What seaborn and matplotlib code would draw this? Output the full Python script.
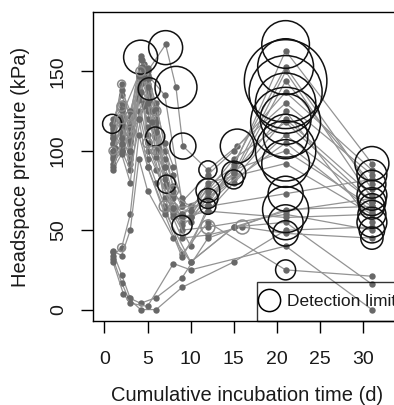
import matplotlib
matplotlib.use("Agg")
import matplotlib.pyplot as plt
from matplotlib.lines import Line2D
import numpy as np
import pandas as pd
import seaborn as sns

# headspace pressure of each bottle (days, kPa)
series_days = [
    [1.0, 2.0, 3.0, 4.2, 5.0, 6.0, 7.0, 9.0, 12.0, 15.0, 21.0, 31.0],
    [1.0, 2.0, 3.0, 4.2, 5.0, 6.0, 8.0, 10.0, 12.0, 15.0, 21.0, 31.0],
    [1.0, 2.0, 3.0, 4.0, 5.0, 7.1, 8.3, 9.1, 12.0, 15.4, 21.0, 31.0],
    [1.0, 2.0, 3.0, 4.6, 5.2, 6.0, 7.0, 9.0, 12.0, 15.0, 21.0, 31.0],
    [1.0, 2.0, 3.0, 4.0, 5.0, 6.0, 8.0, 9.0, 12.0, 15.0, 21.0, 31.0],
    [1.0, 2.0, 3.0, 4.0, 5.0, 5.9, 7.0, 9.0, 12.0, 15.0, 21.0, 31.0],
    [1.0, 2.0, 3.0, 4.6, 5.0, 7.2, 8.0, 10.0, 12.0, 15.0, 21.0, 31.0],
    [1.0, 2.0, 3.0, 4.0, 5.0, 6.0, 8.0, 10.0, 12.0, 21.0, 31.0],
    [0.9, 2.0, 3.0, 4.2, 5.0, 7.0, 9.0, 12.0, 15.0, 21.0, 31.0],
    [1.0, 2.0, 3.0, 4.2, 5.0, 6.0, 8.0, 9.0, 12.0, 15.0, 21.0, 31.0],
    [1.0, 2.0, 4.0, 5.0, 6.0, 7.0, 9.0, 12.0, 21.0, 31.0],
    [1.0, 2.0, 4.0, 5.0, 7.0, 9.0, 12.0, 16.0, 21.0, 31.0],
    [1.0, 2.0, 4.0, 5.0, 8.0, 10.0, 12.0, 21.0, 31.0],
    [1.0, 2.0, 4.6, 5.0, 6.0, 9.0, 12.0, 21.0, 31.0],
    [2.0, 4.0, 5.0, 7.0, 10.0, 15.0, 21.0, 31.0],
    [1.0, 2.0, 3.0, 4.2, 6.0, 9.0, 12.0, 21.0, 31.0],
    [1.0, 2.0, 2.8, 4.2, 6.0, 9.0, 15.0, 21.0, 31.0],
    [1.0, 2.2, 3.0, 5.0, 8.0, 10.0, 21.0, 31.0],
    [1.0, 2.0, 3.0, 4.0, 5.0, 7.0, 9.0, 12.0, 21.0, 31.0],
    [1.0, 2.0, 3.0, 4.0, 5.0, 8.0, 10.0, 15.0, 21.0, 31.0],
    [1.0, 2.0, 3.0, 4.4, 5.0, 6.0, 7.0, 8.0, 9.0],
    [1.0, 2.0, 3.0, 4.4, 5.2, 6.0, 7.0, 8.0],
    [1.0, 2.0, 3.0, 4.0, 5.0, 6.0, 7.0, 8.0, 10.0],
    [1.0, 2.0, 3.0, 4.4, 5.2, 6.0, 7.0, 8.0],
    [1.0, 2.0, 3.0, 4.0, 4.6, 5.0, 5.5, 6.0, 7.0],
    [1.2, 2.0, 3.0, 4.2, 4.6, 5.0, 5.5, 6.2],
    [9.0, 12.0, 15.0, 21.0, 31.0],
    [10.0, 12.0, 21.0, 31.0],
    [8.0, 12.0, 15.0, 21.0, 31.0],
]
series_kpa = [
    [117, 128, 112, 150, 142, 125, 85, 55, 72, 86, 150, 70],
    [112, 142, 118, 160, 138, 109, 62, 58, 78, 90, 163, 92],
    [108, 120, 104, 145, 150, 167, 140, 103, 88, 103, 130, 85],
    [104, 115, 98, 155, 139, 120, 78, 60, 70, 84, 144, 79],
    [100, 110, 95, 140, 125, 100, 70, 53, 66, 82, 120, 72],
    [96, 105, 92, 135, 120, 109, 65, 58, 62, 80, 110, 68],
    [92, 100, 88, 130, 110, 79, 58, 55, 74, 88, 100, 65],
    [88, 98, 80, 125, 100, 88, 64, 62, 80, 92, 60],
    [117, 135, 122, 158, 148, 135, 68, 85, 100, 137, 88],
    [114, 125, 108, 152, 145, 130, 75, 65, 70, 86, 125, 55],
    [110, 122, 148, 128, 112, 82, 50, 52, 60, 50],
    [105, 112, 138, 115, 70, 45, 47, 52, 48, 45],
    [100, 108, 132, 105, 60, 40, 65, 73, 82],
    [95, 102, 128, 95, 80, 35, 55, 25, 21],
    [100, 120, 90, 62, 30, 52, 55, 16],
    [36, 22, 7, 4, 7.5, 20, 45, 63, 65],
    [32, 17, 7, 0, 0, 14, 30, 50, 52],
    [30, 10, 4, 2, 29, 25, 40, 0],
    [34, 39, 60, 110, 90, 60, 33, 62, 58, 60],
    [37, 34, 50, 95, 75, 45, 30, 52, 62, 70],
    [120, 130, 115, 157, 152, 118, 100, 85, 70],
    [115, 138, 125, 153, 146, 127, 105, 90],
    [90, 104, 100, 120, 135, 96, 90, 72, 65],
    [98, 118, 110, 143, 132, 115, 95, 78],
    [108, 126, 106, 147, 151, 140, 125, 112, 90],
    [102, 116, 100, 137, 146, 130, 118, 102],
    [60, 75, 95, 118, 68],
    [58, 70, 105, 62],
    [64, 66, 92, 153, 76],
]

# detection limit circles: centre (day, kPa) and radius (kPa)
limit_day = [0.9, 4.2, 7.1, 8.3, 5.2, 5.9, 9.1, 7.2, 9.0,
             2.0, 2.0, 2.0, 1.0, 3.0, 6.0, 3.0, 4.2, 2.0, 5.0, 6.0, 8.0, 7.0, 8.0,
             12.0, 12.0, 12.0, 12.0, 12.0,
             15.4, 15.0, 16.0, 15.0,
             21.0, 21.0, 21.0, 21.0, 21.0, 21.0, 21.0, 21.0, 21.0, 21.0, 21.0,
             21.0, 21.0, 21.0, 21.0,
             31.0, 31.0, 31.0, 31.0, 31.0, 31.0, 31.0, 31.0, 31.0, 31.0]
limit_kpa = [117, 159, 165, 140, 139, 109, 103, 79, 53,
             142, 128, 120, 100, 122, 125, 112, 150, 39, 105, 100, 64, 65, 75,
             88, 75, 70, 65, 52,
             103, 86, 52, 82,
             167, 153, 144, 137, 130, 118, 120, 109, 100, 92, 73,
             63, 55, 48, 25,
             92, 85, 79, 72, 68, 65, 60, 55, 50, 45]
limit_radius = [6.0, 10.7, 10.7, 13.2, 7.0, 6.0, 8.2, 5.7, 6.3,
                2.5, 3.0, 3.0, 2.5, 3.0, 3.0, 3.2, 3.0, 2.5, 3.0, 2.8, 3.0, 3.5, 3.2,
                5.7, 7.5, 6.3, 5.0, 4.4,
                10.7, 7.5, 4.4, 6.0,
                15.0, 17.6, 26.0, 23.0, 19.0, 22.0, 16.0, 14.0, 19.0, 15.0, 11.0,
                14.5, 11.0, 8.0, 6.3,
                10.7, 9.4, 8.8, 9.4, 8.8, 8.0, 8.8, 9.4, 8.0, 7.0]
legend_radius = 7.0

x_ticks = [0, 5, 10, 15, 20, 25, 30]
y_ticks = [0, 50, 100, 150]

sns.set_style("ticks")
plt.rcParams['font.family'] = ['Liberation Sans', 'DejaVu Sans']

rows = []
for i, (d, p) in enumerate(zip(series_days, series_kpa)):
    for a, b in zip(d, p):
        rows.append((i, a, b))
df = pd.DataFrame(rows, columns=['bottle', 'day', 'kpa'])

dpi = 100
fig = plt.figure(figsize=(3.94, 4.05), dpi=dpi)
ax = fig.add_axes([0.2353, 0.2074, 0.805, 0.762])
ax.set_xlim(-1.35, 35.4)
ax.set_ylim(-7.2, 187.2)

sns.lineplot(data=df, x='day', y='kpa', units='bottle', estimator=None, sort=False,
             color='#939393', lw=0.9, marker='o', markersize=4.6,
             markerfacecolor='#686868', markeredgecolor='#686868', markeredgewidth=0,
             ax=ax, zorder=2)

# circle radius in kPa -> marker size in points
px_per_kpa = ax.bbox.height / (187.2 + 7.2)
diam_pt = 2 * np.array(limit_radius) * px_per_kpa * 72 / dpi
edge = ['#8a8a8a' if r < 5 else '#111111' for r in limit_radius]
ax.scatter(limit_day, limit_kpa, s=diam_pt ** 2, facecolors='none',
           edgecolors=edge, linewidths=1.1, zorder=3)

handle = Line2D([], [], ls='none', marker='o', mfc='none', mec='black', mew=1.1,
                markersize=2 * legend_radius * px_per_kpa * 72 / dpi)
leg = ax.legend([handle], ['Detection limit'], loc='lower left',
                bbox_to_anchor=(0.517, 0.0), borderaxespad=0, fontsize=12.5,
                frameon=True, fancybox=False, edgecolor='black', facecolor='none',
                borderpad=0.7, handlelength=0.05, handletextpad=0.97)
leg.get_frame().set_linewidth(1.0)
for t in leg.get_texts():
    t.set_color('#1a1a1a')

for s in ax.spines.values():
    s.set_color('black')
    s.set_linewidth(1.0)
ax.set_xticks(x_ticks)
ax.set_yticks(y_ticks)
ax.set_yticklabels([str(v) for v in y_ticks], rotation=90, va='center')
ax.tick_params(direction='out', length=8.6, width=1.0, color='black',
               labelsize=14, labelcolor='#1a1a1a')
ax.tick_params(axis='x', pad=13)
ax.tick_params(axis='y', pad=10)
ax.set_xlabel('')
ax.set_ylabel('')

fig.text(0.627, 0.01, 'Cumulative incubation time (d)', ha='center', va='baseline',
         fontsize=14.5, color='#1a1a1a')
fig.text(0.052, 0.588, 'Headspace pressure (kPa)', ha='center', va='center',
         rotation=90, fontsize=14.5, color='#1a1a1a')

fig.savefig('out.png', dpi=dpi)
